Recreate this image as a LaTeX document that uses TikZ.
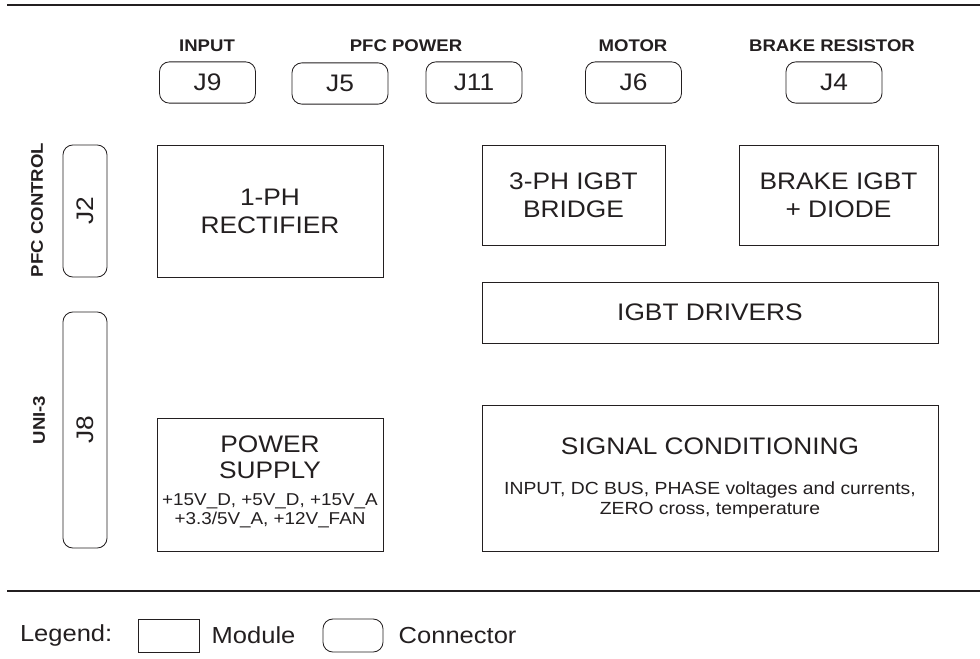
\documentclass[tikz,border=0pt]{standalone}
\usepackage{fontspec}
\setmainfont{Liberation Sans}
\newfontfamily\diagfont[FakeStretch=1.1]{Liberation Sans}
\definecolor{InkGray}{RGB}{35, 31, 32}
\usetikzlibrary{positioning}

\begin{document}
\begin{tikzpicture}[
    x=0.025cm, y=-0.025cm,
    every node/.style={text=InkGray, align=center},
    module/.style={draw=InkGray, line width=0.6pt, inner sep=2pt,
                   font=\diagfont\fontsize{17}{20}\selectfont},
    conn/.style={draw=InkGray, line width=0.6pt, rounded corners=7pt,
                 minimum width=2.4cm, minimum height=1.03cm,
                 font=\diagfont\fontsize{17}{18}\selectfont},
    tag/.style={font=\diagfont\fontsize{12}{14}\selectfont\bfseries},
    legtext/.style={inner sep=0pt, font=\diagfont\fontsize{16.5}{18}\selectfont},
    rule/.style={draw=InkGray, line width=1.7pt}
]
\useasboundingbox (0,0) rectangle (980,658);
\draw[rule] (7,5) -- (980,5);
\draw[rule] (7,591) -- (980,591);

% connectors on top
\node[conn] (j9) at (207.5,82.5) {J9};
\node[conn] (j5) at (340,83.5) {J5};
\node[conn] (j11) at (474,82.5) {J11};
\node[conn] (j6) at (633.5,82.5) {J6};
\node[conn] (j4) at (834,82.5) {J4};
\node[tag] (input) at (207,46) {INPUT};
\node[tag] (pfcpower) at (406,46) {PFC POWER};
\node[tag] (motor) at (633,46) {MOTOR};
\node[tag] (brakeres) at (832,46) {BRAKE RESISTOR};

% connectors on the left
\node[conn, rotate=90, minimum width=3.3cm, minimum height=1.1cm] (j2) at (85,211) {J2};
\node[conn, rotate=90, minimum width=5.9cm, minimum height=1.1cm] (j8) at (85,430) {J8};
\node[tag, rotate=90] (pfcctrl) at (37,210) {PFC CONTROL};
\node[tag, rotate=90] (uni) at (39,420) {UNI-3};

% modules
\node[module, minimum width=5.65cm, minimum height=3.3cm] (rect) at (270,211) {1-PH\\RECTIFIER};
\node[module, minimum width=4.575cm, minimum height=2.5cm] (bridge) at (573.5,195) {3-PH IGBT\\BRIDGE};
\node[module, minimum width=4.975cm, minimum height=2.5cm] (brake) at (838.5,195) {BRAKE IGBT\\+ DIODE};
\node[module, minimum width=11.4cm, minimum height=1.525cm] (drivers) at (710,312.5) {IGBT DRIVERS};
\node[module, minimum width=5.65cm, minimum height=3.325cm] (psu) at (270,484.5) {};
\node[font=\diagfont\fontsize{17}{18.5}\selectfont] (psutext) at ([yshift=0.06cm]psu.center)
    {POWER\\SUPPLY\\[1pt]{\fontsize{12.2}{13}\selectfont +15V\_D, +5V\_D, +15V\_A}\\[-5pt]{\fontsize{12.2}{13}\selectfont +3.3/5V\_A, +12V\_FAN}};
\node[module, minimum width=11.4cm, minimum height=3.65cm] (signal) at (710,478)
    {SIGNAL CONDITIONING\\[8pt]{\fontsize{12.5}{14}\selectfont INPUT, DC BUS, PHASE voltages and currents,}\\[-5.5pt]{\fontsize{12.5}{14}\selectfont ZERO cross, temperature}};

% legend
\node[module, minimum width=1.525cm, minimum height=0.825cm] (legmod) at (168.5,635.5) {};
\node[conn, minimum width=1.5cm, minimum height=0.825cm] (legconn) at (353,635.5) {};
\node[legtext, left=0.625cm of legmod] (legend) {Legend:};
\node[legtext, right=0.3cm of legmod] (legmodtxt) {Module};
\node[legtext, right=0.375cm of legconn] (legconntxt) {Connector};
\end{tikzpicture}
\end{document}
